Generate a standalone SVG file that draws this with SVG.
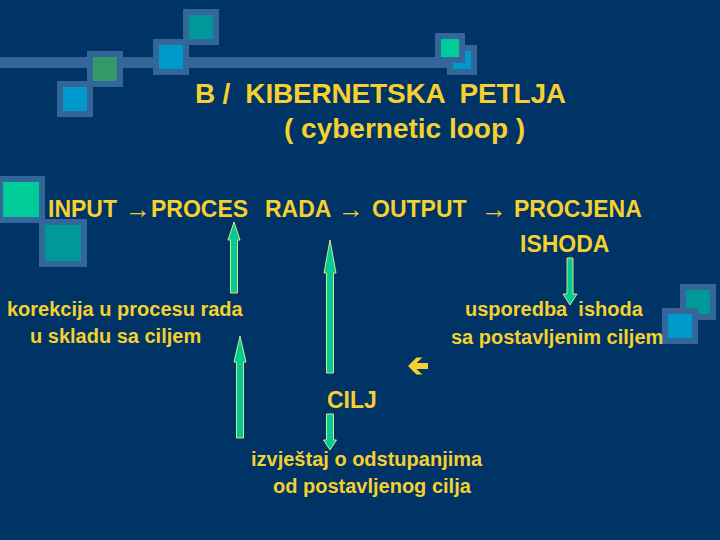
<svg xmlns="http://www.w3.org/2000/svg" width="720" height="540" viewBox="0 0 720 540">
<style>
.t{font-family:"Liberation Sans",Arial,sans-serif;fill:#f5d02f;font-weight:bold}
.h{font-size:28px}
.m{font-size:23px}
.s{font-size:20px}
.fr{fill:#336699}
.g1{fill:#339966}
.bl{fill:#0099cc}
.te{fill:#009999}
.bg{fill:#00cc99}
.ar{fill:#00cc99;stroke:#e2e07a;stroke-width:1}
</style>
<rect width="720" height="540" fill="#003366"/>
<g id="decor">
<rect class="fr" x="0" y="57" width="462" height="11"/>
<rect class="fr" x="57" y="81" width="36" height="36"/><rect class="bl" x="63" y="87" width="24" height="24"/>
<rect class="fr" x="87" y="51" width="36" height="36"/><rect class="g1" x="93" y="57" width="24" height="24"/>
<rect class="fr" x="153" y="39" width="36" height="36"/><rect class="bl" x="159" y="45" width="24" height="24"/>
<rect class="fr" x="183" y="9" width="36" height="36"/><rect class="te" x="189" y="15" width="24" height="24"/>
<rect class="fr" x="447" y="45" width="30" height="30"/><rect class="bl" x="453" y="51" width="18" height="18"/>
<rect class="fr" x="435" y="33" width="30" height="30"/><rect class="bg" x="441" y="39" width="18" height="18"/>
<rect class="fr" x="-3" y="176" width="48" height="47"/><rect class="bg" x="3" y="182" width="36" height="35"/>
<rect class="fr" x="39" y="219" width="48" height="48"/><rect class="te" x="45" y="225" width="36" height="36"/>
<rect class="fr" x="680" y="284" width="36" height="36"/><rect class="te" x="686" y="290" width="24" height="24"/>
<rect class="fr" x="662" y="308" width="36" height="36"/><rect class="bl" x="668" y="314" width="24" height="24"/>
</g>
<g id="title">
<text class="t h" x="195" y="103" xml:space="preserve" textLength="371" lengthAdjust="spacing">B /  KIBERNETSKA  PETLJA</text>
<text class="t h" x="284" y="138">( cybernetic loop )</text>
</g>
<g id="input"><text class="t m" x="48" y="217">INPUT</text></g>
<g id="proces"><text class="t m" x="151" y="217">PROCES</text><text class="t m" x="265" y="217">RADA</text></g>
<g id="output"><text class="t m" x="372" y="217">OUTPUT</text></g>
<g id="procjena"><text class="t m" x="514" y="217">PROCJENA</text><text class="t m" x="520" y="252">ISHODA</text></g>
<g id="flow-arrows">
<text class="t" x="125" y="218" style="font-size:26px">→</text>
<text class="t" x="338" y="218" style="font-size:26px">→</text>
<text class="t" x="481" y="218" style="font-size:26px">→</text>
</g>
<g id="korekcija">
<text class="t s" x="7" y="316">korekcija u procesu rada</text>
<text class="t s" x="30" y="343">u skladu sa ciljem</text>
</g>
<g id="usporedba">
<text class="t s" x="465" y="316" xml:space="preserve">usporedba  ishoda</text>
<text class="t s" x="451" y="344">sa postavljenim ciljem</text>
</g>
<g id="cilj"><text class="t m" x="327" y="408">CILJ</text></g>
<g id="izvjestaj">
<text class="t s" x="251" y="466">izvještaj o odstupanjima</text>
<text class="t s" x="273" y="493">od postavljenog cilja</text>
</g>
<g id="connectors">
<polygon class="ar" points="234,222 240,240 237.5,240 237.5,293 230.5,293 230.5,240 228,240"/>
<polygon class="ar" points="330,240 336,273 333.5,273 333.5,373 326.5,373 326.5,273 324,273"/>
<polygon class="ar" points="240,336 246,362 243.5,362 243.5,438 236.5,438 236.5,362 234,362"/>
<polygon class="ar" points="326.5,414 333.5,414 333.5,440 336.5,440 330,450 323.5,440 326.5,440"/>
<polygon class="ar" points="567,258 573,258 573,294 577,294 570,305 563,294 567,294"/>
<polygon fill="#f5d02f" points="408,366 416.5,357.5 422.5,357.5 416.5,363 428,363 428,369 416.5,369 422.5,374.5 416.5,374.5"/>
</g>
</svg>
